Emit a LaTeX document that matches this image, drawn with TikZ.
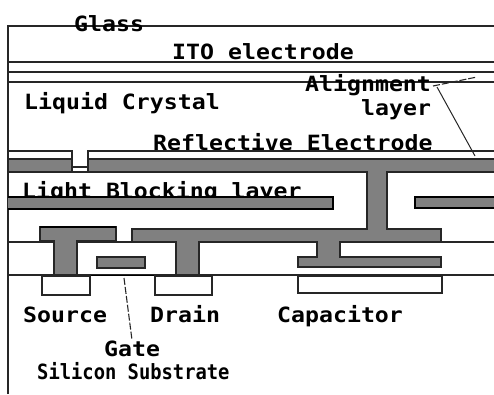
\documentclass[tikz,border=0pt]{standalone}
\usepackage{fontspec}
\newfontfamily\bitfont[FakeStretch=1.105]{DejaVu Sans Mono Bold}
\newfontfamily\bitnarrow[FakeStretch=0.895]{DejaVu Sans Mono Bold}
\definecolor{metal}{RGB}{128,128,128}
\tikzset{
  lay/.style={line width=1.1pt,draw=black!85},
  gray part/.style={fill=metal,draw=black!85,line width=1.2pt},
  dark part/.style={fill=metal,draw=black,line width=1.6pt},
  well/.style={fill=white,draw=black!85,line width=1.3pt},
  lbl/.style={anchor=base west,inner sep=0pt,font=\bitfont\fontsize{21pt}{21pt}\selectfont,text=black},
  lbln/.style={anchor=base west,inner sep=0pt,font=\bitnarrow\fontsize{21pt}{21pt}\selectfont,text=black},
  leader/.style={line width=1pt,draw=black!85},
  leaderd/.style={line width=1.1pt,draw=black!85,dash pattern=on 7pt off 2pt}
}
\begin{document}
\begin{tikzpicture}[x=1pt,y=-1pt]
\useasboundingbox (0,0) rectangle (494,394);
% frame and top layers
\draw[lay] (8,394) -- (8,26) -- (494,26);
\draw[lay] (8,62) -- (494,62);
\draw[lay] (8,72) -- (494,72);
\draw[lay] (8,82) -- (494,82);
% labels under the layers
\node[lbl] (glass) at (74,31) {Glass};
\node[lbl] (ito) at (172,59) {ITO electrode};
\node[lbl] (lc) at (24,109) {Liquid Crystal};
\node[lbl] (align) at (305,91) {Alignment};
\node[lbl] (layer) at (361,115) {layer};
\node[lbl] (refl) at (153,150) {Reflective Electrode};
\node[lbl] (block) at (22,198) {Light Blocking layer};
\node[lbl] (source) at (23,322) {Source};
\node[lbl] (drain) at (150,322) {Drain};
\node[lbl] (cap) at (277,322) {Capacitor};
\node[lbl] (gate) at (104,356) {Gate};
\node[lbln] (si) at (37,379) {Silicon Substrate};
% reflective electrode
\draw[lay] (8,151) -- (72,151) -- (72,172);
\draw[lay] (88,172) -- (88,151) -- (494,151);
\draw[lay] (72,167) -- (88,167);
\draw[lay] (8,172) -- (494,172);
% metal with vias
\draw[gray part] (494,159) -- (88,159) -- (88,172) -- (367,172) -- (367,229) -- (132,229) -- (132,242) -- (176,242) -- (176,275) -- (199,275) -- (199,242) -- (317,242) -- (317,257) -- (298,257) -- (298,267) -- (441,267) -- (441,257) -- (340,257) -- (340,242) -- (441,242) -- (441,229) -- (387,229) -- (387,172) -- (494,172);
\draw[gray part] (8,159) rectangle (72,172);
% light blocking bars
\draw[dark part] (8,197) -- (333,197) -- (333,209) -- (8,209);
\draw[dark part] (494,197) -- (415,197) -- (415,208) -- (494,208);
% source metal
\draw[gray part] (40,241) -- (40,227) -- (116,227) -- (116,241) -- (77,241) -- (77,275) -- (54,275) -- (54,241) -- cycle;
\draw[line width=1.6pt] (40,227) -- (116,227);
% gate
\draw[gray part] (97,257) rectangle (145,268);
% insulator line
\draw[lay] (8,242) -- (54,242);
\draw[lay] (77,242) -- (176,242);
\draw[lay] (340,242) -- (494,242);
\draw[lay] (199,242) -- (317,242);
% substrate
\draw[lay] (8,275) -- (494,275);
\draw[line width=1.7pt] (44,275.5) -- (155,275.5);
% wells
\draw[well] (42,276) rectangle (90,295);
\draw[well] (155,276) rectangle (212,295);
\draw[well] (298,276) rectangle (442,293);
% leaders
\coordinate (lead1) at (433,86);
\coordinate (lead1e) at (477,77);
\coordinate (lead2) at (437,87);
\coordinate (lead2e) at (475,156);
\coordinate (lead3) at (124,278);
\coordinate (lead3e) at (132,340);
\draw[leaderd] (lead1) -- (lead1e);
\draw[leader] (lead2) -- (lead2e);
\draw[leaderd] (lead3) -- (lead3e);
\end{tikzpicture}
\end{document}
